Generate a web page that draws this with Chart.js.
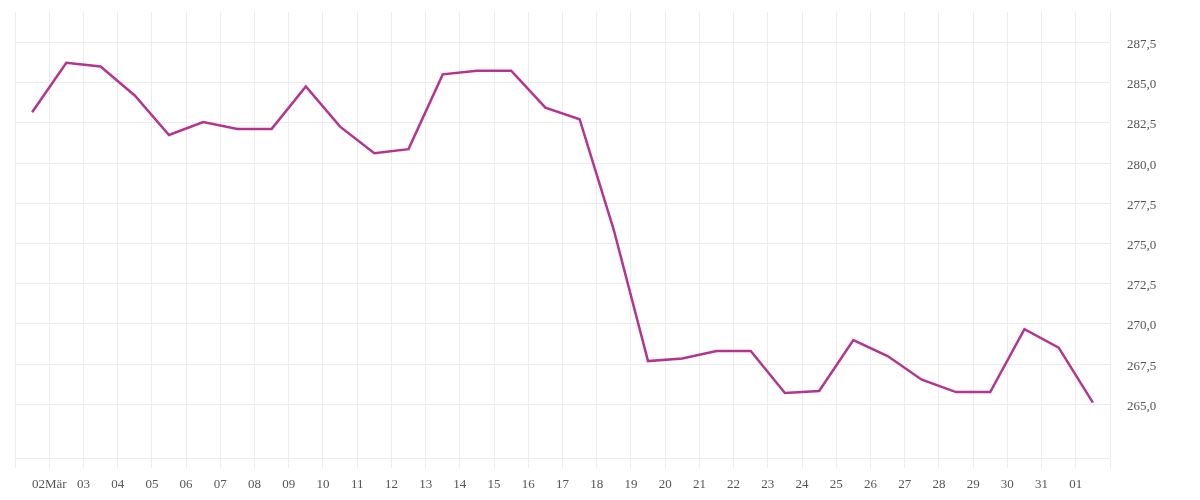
<!DOCTYPE html>
<html>
<head>
<meta charset="utf-8">
<script src="https://cdn.jsdelivr.net/npm/chart.js@4/dist/chart.umd.min.js"></script>
<style>
  html, body { margin: 0; padding: 0; background: #ffffff; }
  #wrap { width: 1200px; height: 500px; }
</style>
</head>
<body>
<div id="wrap"><canvas id="c" width="1200" height="500"></canvas></div>
<script>
// Day labels placed on the day boundaries (grid lines); first and last boundary unlabeled
const dayLabels = ['', '02Mär', '03', '04', '05', '06', '07', '08', '09', '10', '11', '12', '13', '14', '15', '16', '17', '18', '19', '20', '21', '22', '23', '24', '25', '26', '27', '28', '29', '30', '31', '01', ''];
// One value per day (plotted mid-day)
const values = [283.16, 286.24, 286.01, 284.21, 281.75, 282.56, 282.13, 282.13, 284.77, 282.27, 280.62, 280.87,
                285.52, 285.75, 285.75, 283.45, 282.73, 275.84, 267.69, 267.85, 268.31, 268.31, 265.70, 265.83,
                268.99, 268.00, 266.53, 265.76, 265.76, 269.67, 268.52, 265.10];
const yTickValues = [265, 267.5, 270, 272.5, 275, 277.5, 280, 282.5, 285, 287.5];
const yMin = 261.66;
const yMax = 289.4;

const gridColor = '#ececec';
const textColor = '#555555';
const fontFamily = "'Liberation Serif', 'DejaVu Serif', serif";

const points = values.map((v, i) => ({ x: i + 0.5, y: v }));

new Chart(document.getElementById('c'), {
  type: 'line',
  data: {
    datasets: [{
      data: points,
      borderColor: '#b3358c',
      borderWidth: 2.5,
      pointRadius: 0,
      pointHoverRadius: 0,
      tension: 0,
      fill: false
    }]
  },
  options: {
    responsive: false,
    animation: false,
    devicePixelRatio: 1,
    layout: { padding: { left: 15, top: 12, right: 0, bottom: 0 } },
    plugins: { legend: { display: false }, tooltip: { enabled: false } },
    scales: {
      x: {
        type: 'linear',
        min: 0,
        max: dayLabels.length - 1,
        afterBuildTicks: (scale) => {
          scale.ticks = dayLabels.map((_, i) => ({ value: i }));
        },
        afterFit: (scale) => { scale.height = 42; scale.paddingLeft = 0; scale.paddingRight = 0; },
        ticks: {
          autoSkip: false,
          maxRotation: 0,
          minRotation: 0,
          padding: 9,
          color: textColor,
          font: { family: fontFamily, size: 13 },
          callback: (value) => dayLabels[Math.round(value)] ?? ''
        },
        grid: { color: gridColor, lineWidth: 1, tickLength: 10, drawTicks: true },
        border: { display: true, color: gridColor }
      },
      y: {
        type: 'linear',
        position: 'right',
        min: yMin,
        max: yMax,
        afterBuildTicks: (scale) => {
          scale.ticks = yTickValues.map(v => ({ value: v }));
        },
        afterFit: (scale) => { scale.width = 90; scale.paddingTop = 0; scale.paddingBottom = 0; },
        ticks: {
          padding: 17,
          labelOffset: 2,
          color: textColor,
          font: { family: fontFamily, size: 13 },
          callback: (value) => value.toFixed(1).replace('.', ',')
        },
        grid: { color: gridColor, lineWidth: 1, drawTicks: false },
        border: { display: true, color: gridColor }
      }
    }
  }
});
</script>
</body>
</html>
